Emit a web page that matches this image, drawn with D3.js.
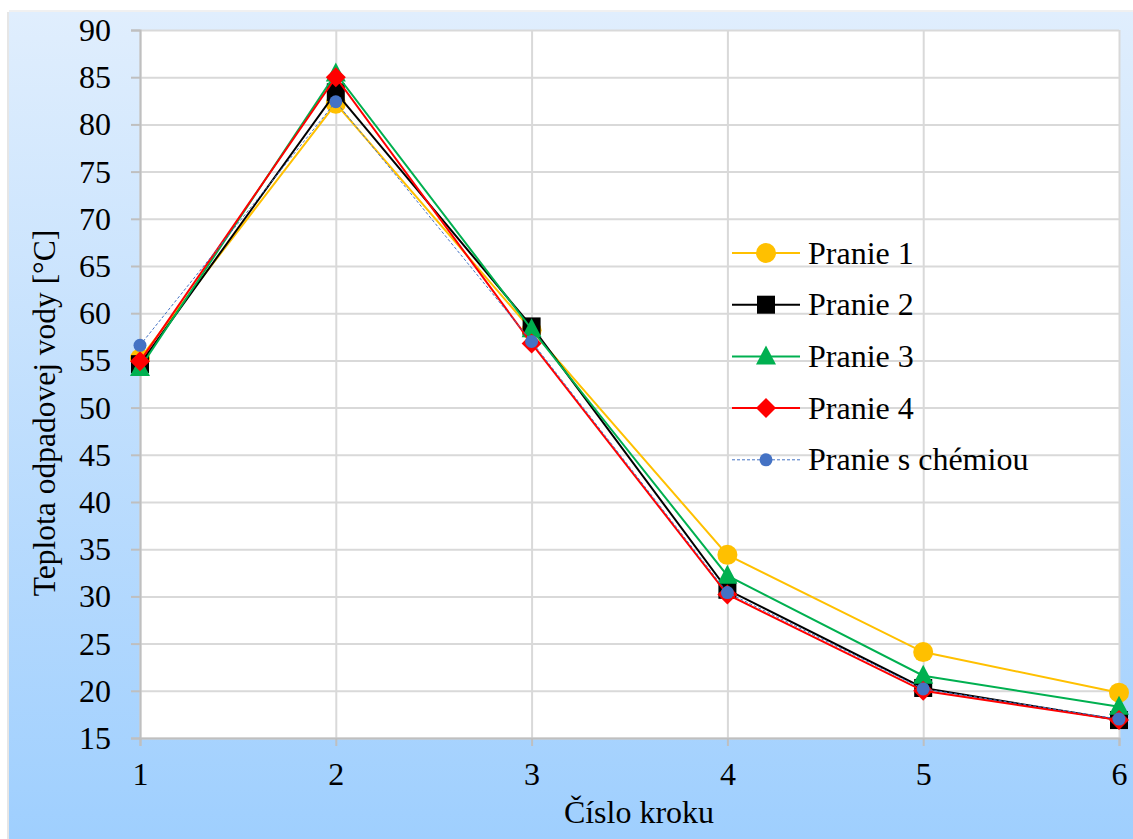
<!DOCTYPE html>
<meta charset="utf-8">
<style>
body { margin: 0; background: #fff; }
svg text { font-family: "Liberation Serif", "Times New Roman", serif; }
</style>
<svg width="1133" height="839"></svg>
<script src="https://d3js.org/d3.v7.min.js"></script>
<script>

var steps = [1, 2, 3, 4, 5, 6];
var yTicks = [15, 20, 25, 30, 35, 40, 45, 50, 55, 60, 65, 70, 75, 80, 85, 90];

var pranie1 = [55.2, 82.2, 58.2, 34.4, 24.1, 19.8];
var pranie2 = [54.6, 83.4, 58.6, 30.7, 20.3, 16.9];
var pranie3 = [54.2, 85.4, 58.3, 32.2, 21.6, 18.3];
var pranie4 = [54.9, 85.0, 56.8, 30.2, 20.0, 16.9];
var chemia  = [56.6, 82.4, 57.0, 30.4, 20.2, 17.0];

var seriesNames = ["Pranie 1", "Pranie 2", "Pranie 3", "Pranie 4", "Pranie s chémiou"];

var series = [
  {name: seriesNames[0], values: pranie1, color: "#FFC000", shape: "circle", size: 10, width: 2},
  {name: seriesNames[1], values: pranie2, color: "#000000", shape: "square", size: 9, width: 2},
  {name: seriesNames[2], values: pranie3, color: "#00B050", shape: "triangle", size: 10, width: 2},
  {name: seriesNames[3], values: pranie4, color: "#FF0000", shape: "diamond", size: 10, width: 2},
  {name: seriesNames[4], values: chemia,  color: "#4472C4", shape: "circle", size: 6.5, width: 1, dash: "3,2"}
];

var FONT = "'Liberation Serif', 'Times New Roman', serif";
var FS = 32;

var svg = d3.select("svg");

var defs = svg.append("defs");
var grad = defs.append("linearGradient")
    .attr("id", "bg").attr("x1", 0).attr("y1", 0).attr("x2", 0).attr("y2", 1);
grad.append("stop").attr("offset", "0%").attr("stop-color", "#e0eefd");
grad.append("stop").attr("offset", "100%").attr("stop-color", "#9fcffe");

svg.append("rect")
    .attr("x", 9).attr("y", 12)
    .attr("width", 1124).attr("height", 827)
    .attr("fill", "url(#bg)");
// faint shadow on the left and top
svg.append("rect").attr("x", 7).attr("y", 12).attr("width", 2).attr("height", 827).attr("fill", "#e6e6e6");
svg.append("rect").attr("x", 9).attr("y", 10).attr("width", 1124).attr("height", 2).attr("fill", "#f0f0f0");

var plotLeft = 140, plotRight = 1119, plotTop = 30, plotBottom = 738;

var x = d3.scaleLinear().domain([1, 6]).range([plotLeft, plotRight]);
var y = d3.scaleLinear().domain([15, 90]).range([plotBottom, plotTop]);

svg.append("rect")
    .attr("x", plotLeft).attr("y", plotTop)
    .attr("width", plotRight - plotLeft).attr("height", plotBottom - plotTop)
    .attr("fill", "#fff");

// gridlines
svg.append("g")
    .attr("transform", "translate(" + plotLeft + ",0)")
    .call(d3.axisLeft(y).tickValues(yTicks).tickSize(-(plotRight - plotLeft)).tickFormat(""))
    .call(function(g) { g.select(".domain").remove(); })
    .selectAll("line").attr("stroke", "#d9d9d9").attr("stroke-width", 2);

svg.append("g")
    .attr("transform", "translate(0," + plotBottom + ")")
    .call(d3.axisBottom(x).tickValues(steps).tickSize(-(plotBottom - plotTop)).tickFormat(""))
    .call(function(g) { g.select(".domain").remove(); })
    .selectAll("line").attr("stroke", "#d9d9d9").attr("stroke-width", 2);

// axes
var yAxis = svg.append("g")
    .attr("transform", "translate(" + plotLeft + ",0)")
    .call(d3.axisLeft(y).tickValues(yTicks).tickSize(9).tickPadding(20));
yAxis.attr("font-family", FONT);
yAxis.select(".domain").attr("stroke", "#bfbfbf").attr("stroke-width", 2);
yAxis.selectAll("line").attr("stroke", "#bfbfbf").attr("stroke-width", 2);
yAxis.selectAll("text").attr("font-size", FS).attr("fill", "#000").attr("dy", "0.33em");

var xAxis = svg.append("g")
    .attr("transform", "translate(0," + plotBottom + ")")
    .call(d3.axisBottom(x).tickValues(steps).tickSize(8).tickPadding(16).tickFormat(d3.format("d")));
xAxis.attr("font-family", FONT);
xAxis.select(".domain").attr("stroke", "#bfbfbf").attr("stroke-width", 2);
xAxis.selectAll("line").attr("stroke", "#bfbfbf").attr("stroke-width", 2);
xAxis.selectAll("text").attr("font-size", FS).attr("fill", "#000");

// axis titles
svg.append("text")
    .attr("transform", "translate(55,413) rotate(-90)")
    .attr("text-anchor", "middle")
    .attr("font-family", FONT)
    .attr("font-size", 31.5)
    .text("Teplota odpadovej vody [°C]");

svg.append("text")
    .attr("x", 639).attr("y", 823)
    .attr("text-anchor", "middle")
    .attr("font-family", FONT)
    .attr("font-size", FS)
    .text("Číslo kroku");

function marker(sel, s) {
  var r = s.size;
  if (s.shape === "circle") {
    sel.append("circle").attr("r", r).attr("fill", s.color);
  } else if (s.shape === "square") {
    sel.append("rect").attr("x", -r).attr("y", -r).attr("width", 2 * r).attr("height", 2 * r).attr("fill", s.color);
  } else if (s.shape === "triangle") {
    sel.append("path").attr("d", "M0," + (-r * 1.1) + "L" + r + "," + (r * 0.8) + "L" + (-r) + "," + (r * 0.8) + "Z").attr("fill", s.color);
  } else {
    sel.append("path").attr("d", "M0," + (-r) + "L" + r + ",0L0," + r + "L" + (-r) + ",0Z").attr("fill", s.color);
  }
}

var line = d3.line()
    .x(function(d, i) { return x(steps[i]); })
    .y(function(d) { return y(d); });

series.forEach(function(s) {
  var g = svg.append("g");
  g.append("path")
      .attr("d", line(s.values))
      .attr("fill", "none")
      .attr("stroke", s.color)
      .attr("stroke-width", s.width)
      .attr("stroke-dasharray", s.dash || null);
  g.selectAll("g.pt")
      .data(s.values)
    .enter().append("g")
      .attr("class", "pt")
      .attr("transform", function(d, i) { return "translate(" + x(steps[i]) + "," + y(d) + ")"; })
      .each(function() { marker(d3.select(this), s); });
});

// legend
var rows = svg.append("g").selectAll("g")
    .data(series)
  .enter().append("g")
    .attr("transform", function(d, i) { return "translate(732," + (253 + i * 51.7) + ")"; });

rows.append("line")
    .attr("x1", 0).attr("x2", 68)
    .attr("stroke", function(d) { return d.color; })
    .attr("stroke-width", function(d) { return d.width; })
    .attr("stroke-dasharray", function(d) { return d.dash || null; });
rows.append("g")
    .attr("transform", "translate(34,0)")
    .each(function(d) { marker(d3.select(this), d); });
rows.append("text")
    .attr("x", 76).attr("dy", "0.33em")
    .attr("font-family", FONT)
    .attr("font-size", FS)
    .text(function(d) { return d.name; });

</script>
